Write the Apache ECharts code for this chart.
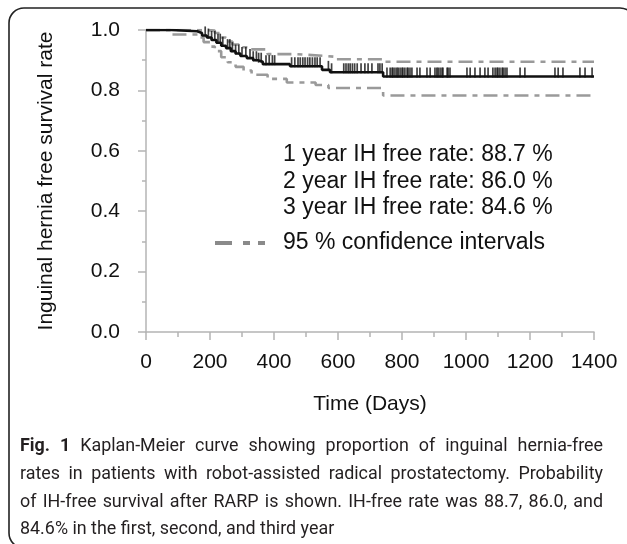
<!DOCTYPE html>
<html>
<head>
<meta charset="utf-8">
<script src="https://cdn.jsdelivr.net/npm/echarts@6/dist/echarts.min.js"></script>
<style>
html,body{margin:0;padding:0;background:#fff;}
#chart{width:627px;height:544px;}
</style>
</head>
<body>
<div id="chart"></div>
<script>
// ---- data ----
const kmDays = [0, 80, 160, 175, 190, 205, 220, 235, 250, 265, 280, 295, 315, 335, 350, 365, 450, 550, 575, 741, 1400];
const kmSurv = [1.0, 0.996, 0.99, 0.982, 0.975, 0.967, 0.958, 0.948, 0.94, 0.93, 0.922, 0.914, 0.907, 0.9, 0.895, 0.887, 0.88, 0.868, 0.86, 0.846, 0.846];

const upperDays = [0, 190, 215, 235, 250, 270, 290, 320, 380, 470, 560, 595, 741, 1400];
const upperVals = [1.0, 0.998, 0.99, 0.975, 0.962, 0.952, 0.943, 0.936, 0.92, 0.914, 0.911, 0.903, 0.895, 0.895];

const lowerDays = [0, 75, 165, 180, 200, 215, 235, 255, 280, 305, 330, 380, 440, 530, 570, 741, 1400];
const lowerVals = [1.0, 0.985, 0.975, 0.96, 0.945, 0.93, 0.91, 0.893, 0.878, 0.866, 0.852, 0.838, 0.826, 0.818, 0.808, 0.783, 0.783];

const censorDays = [185, 195, 205, 215, 225, 232, 240, 255, 262, 270, 280, 290, 300, 312, 325, 335, 345, 352, 360, 375, 385, 395, 402,
  455, 465, 475, 482, 490, 497, 505, 512, 520, 528, 535, 544, 570, 580, 618, 625, 632, 638, 645, 652, 660, 672, 684, 694, 706,
  725, 731, 738, 753, 763, 769, 772, 778, 784, 788, 794, 800, 803, 809, 816, 819, 825, 831, 847, 856, 878, 888, 903, 909, 913,
  919, 925, 928, 941, 944, 950, 1003, 1013, 1028, 1044, 1059, 1069, 1084, 1091, 1097, 1100, 1106, 1113, 1116, 1122, 1128,
  1169, 1184, 1278, 1288, 1303, 1356, 1372, 1394];

const xTicks = [0, 200, 400, 600, 800, 1000, 1200, 1400];
const yTicks = [0.0, 0.2, 0.4, 0.6, 0.8, 1.0];

const legendLines = ["1 year IH free rate: 88.7 %", "2 year IH free rate: 86.0 %", "3 year IH free rate: 84.6 %"];
const ciLabel = "95 % confidence intervals";

const xTitle = "Time (Days)";
const yTitle = "Inguinal hernia free survival rate";

const captionBold = "Fig. 1";
const captionLines = [
  "Fig. 1 Kaplan-Meier curve showing proportion of inguinal hernia-free",
  "rates in patients with robot-assisted radical prostatectomy. Probability",
  "of IH-free survival after RARP is shown. IH-free rate was 88.7, 86.0, and",
  "84.6% in the first, second, and third year"
];

// ---- helpers ----
function pairs(xs, ys) { return xs.map((x, i) => [x, ys[i]]); }
function survAt(day) {
  let v = kmSurv[0];
  for (let i = 0; i < kmDays.length; i++) { if (kmDays[i] <= day) v = kmSurv[i]; }
  return v;
}

const chartFont = "'Liberation Sans', Arial, sans-serif";
const capFont = "Roboto, 'Liberation Sans', sans-serif";
const capColor = '#231f20';
const capLeft = 20, capRight = 603, capTop = 447, capLH = 27.6, lastLineWidth = 315;

// caption layout (justified); font size fitted so the last line matches its width in the figure
const cv = document.createElement('canvas').getContext('2d');
function measure(t, bold, size) {
  cv.font = (bold ? 'bold ' : '') + size + 'px ' + capFont;
  return cv.measureText(t).width;
}
const capSize = Math.round(20 * lastLineWidth / measure(captionLines[captionLines.length - 1], false, 20) * 10) / 10;
const boldWords = captionBold.split(' ');
const captionGraphics = [];
captionLines.forEach((line, li) => {
  const words = line.split(' ');
  const isBold = words.map((w, wi) => li === 0 && wi < boldWords.length);
  const widths = words.map((w, wi) => measure(w, isBold[wi], capSize));
  const total = widths.reduce((a, b) => a + b, 0);
  const last = li === captionLines.length - 1;
  const gap = last ? measure(' ', false, capSize) : (capRight - capLeft - total) / (words.length - 1);
  let x = capLeft;
  words.forEach((w, wi) => {
    captionGraphics.push({
      type: 'text', x: x, y: capTop + li * capLH,
      style: { text: w, font: (isBold[wi] ? 'bold ' : '') + capSize + 'px ' + capFont, fill: capColor, textVerticalAlign: 'middle' },
      silent: true
    });
    x += widths[wi] + gap;
  });
});

const legendGraphics = legendLines.map((t, i) => ({
  type: 'text', x: 283, y: 155 + i * 26.5,
  style: { text: t, font: '23px ' + chartFont, fill: '#111', textVerticalAlign: 'middle' }, silent: true
}));
legendGraphics.push({
  type: 'text', x: 283, y: 243,
  style: { text: ciLabel, font: '23px ' + chartFont, fill: '#111', textVerticalAlign: 'middle' }, silent: true
});
[[215, 17], [243, 7], [258, 7]].forEach(s => legendGraphics.push({
  type: 'rect', shape: { x: s[0], y: 241, width: s[1], height: 4 }, style: { fill: '#8a8a8a' }, silent: true
}));

const chart = echarts.init(document.getElementById('chart'), null, { renderer: 'canvas' });
const axisGray = '#b4b4b4';
const ciStyle = { color: '#9a9a9a', width: 2.6, type: [14, 6, 5, 6] };

chart.setOption({
  animation: false,
  backgroundColor: '#fff',
  grid: { left: 146, right: 33, top: 30, bottom: 212 },
  xAxis: {
    type: 'value', min: 0, max: 1400, interval: 200,
    name: xTitle, nameLocation: 'middle', nameGap: 62,
    nameTextStyle: { fontSize: 21, fontFamily: chartFont, color: '#111' },
    axisLine: { show: true, lineStyle: { color: axisGray, width: 1.5 } },
    axisTick: { show: true, length: 8, lineStyle: { color: axisGray, width: 1.5 } },
    minorTick: { show: true, splitNumber: 2, length: 5, lineStyle: { color: axisGray, width: 1.5 } },
    axisLabel: { fontSize: 21, fontFamily: chartFont, color: '#111', margin: 20,
      formatter: v => xTicks.includes(v) ? String(v) : '' },
    splitLine: { show: false }
  },
  yAxis: {
    type: 'value', min: 0, max: 1, interval: 0.2,
    name: yTitle, nameLocation: 'middle', nameGap: 89, nameRotate: 90,
    nameTextStyle: { fontSize: 21, fontFamily: chartFont, color: '#111' },
    axisLine: { show: true, lineStyle: { color: axisGray, width: 1.5 } },
    axisTick: { show: true, length: 8, lineStyle: { color: axisGray, width: 1.5 } },
    minorTick: { show: true, splitNumber: 2, length: 4, lineStyle: { color: axisGray, width: 1.5 } },
    axisLabel: { fontSize: 21, fontFamily: chartFont, color: '#111', margin: 26,
      formatter: v => yTicks.some(t => Math.abs(t - v) < 1e-9) ? v.toFixed(1) : '' },
    splitLine: { show: false }
  },
  series: [
    { name: 'upper', type: 'line', step: 'end', data: pairs(upperDays, upperVals), symbol: 'none', lineStyle: ciStyle, z: 2 },
    { name: 'lower', type: 'line', step: 'end', data: pairs(lowerDays, lowerVals), symbol: 'none', lineStyle: ciStyle, z: 2 },
    { name: 'KM', type: 'line', step: 'end', data: pairs(kmDays, kmSurv), symbol: 'none',
      lineStyle: { color: '#111', width: 2.6 }, z: 3 },
    { name: 'censored', type: 'scatter', data: censorDays.map(d => [d, survAt(d)]),
      symbol: 'rect', symbolSize: [1.7, 10], symbolOffset: [0, -4],
      itemStyle: { color: '#111' }, z: 4 }
  ],
  graphic: [
    { type: 'rect', shape: { x: 9, y: 8, width: 626, height: 540, r: 15 },
      style: { fill: 'none', stroke: '#222', lineWidth: 1.6 }, silent: true, z: 10 }
  ].concat(legendGraphics, captionGraphics)
});
</script>
</body>
</html>
